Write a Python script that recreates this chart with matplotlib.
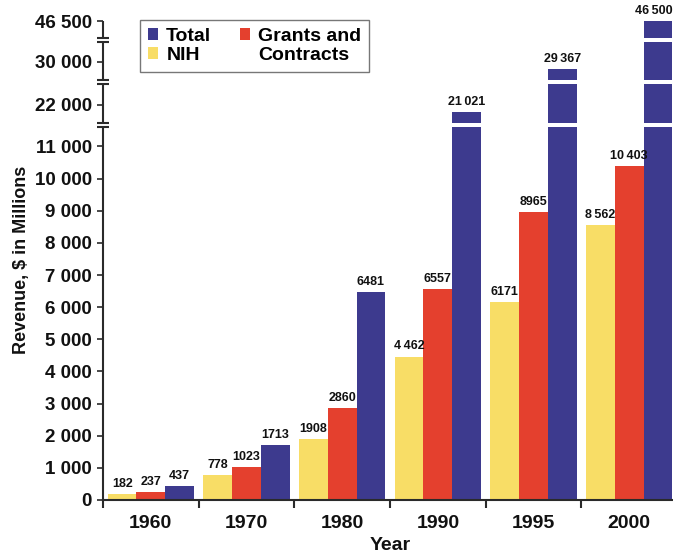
import numpy as np
import matplotlib
matplotlib.use('Agg')
import matplotlib.pyplot as plt
from matplotlib.patches import Rectangle

plt.rcParams['font.family'] = ['Liberation Sans', 'DejaVu Sans']
plt.rcParams['font.weight'] = 'bold'

# ---------------- data ----------------
years = ['1960', '1970', '1980', '1990', '1995', '2000']
nih = [182, 778, 1908, 4462, 6171, 8562]
grants = [237, 1023, 2860, 6557, 8965, 10403]
total = [437, 1713, 6481, 21021, 29367, 46500]

nih_labels = ['182', '778', '1908', '4\u2009462', '6171', '8\u2009562']
grants_labels = ['237', '1023', '2860', '6557', '8965', '10\u2009403']
total_labels = ['437', '1713', '6481', '21\u2009021', '29\u2009367', '46\u2009500']

ytick_values = [0, 1000, 2000, 3000, 4000, 5000, 6000, 7000, 8000, 9000,
                10000, 11000, 22000, 30000, 46500]
ytick_labels = ['0', '1 000', '2 000', '3 000', '4 000', '5 000', '6 000',
                '7 000', '8 000', '9 000', '10 000', '11 000', '22 000',
                '30 000', '46 500']

# ---------------- broken-axis scale definition ----------------
scale_vals = [0, 11600, 19550, 25000, 28400, 31800, 42000, 46500]
scale_pos = [0, 372.8, 377.5, 416.5, 420.5, 458, 462, 479]
gaps = [(11600, 19550), (25000, 28400), (31800, 42000)]
segments = [(0, 11600), (19550, 25000), (28400, 31800), (42000, 46500)]


def _interp(x, xp, fp):
    x = np.asarray(x, dtype=float)
    y = np.interp(x, xp, fp)
    lo = (fp[1] - fp[0]) / (xp[1] - xp[0])
    hi = (fp[-1] - fp[-2]) / (xp[-1] - xp[-2])
    y = np.where(x < xp[0], fp[0] + (x - xp[0]) * lo, y)
    y = np.where(x > xp[-1], fp[-1] + (x - xp[-1]) * hi, y)
    return y


def fwd(v):
    return _interp(v, scale_vals, scale_pos)


def inv(p):
    return _interp(p, scale_pos, scale_vals)


yellow = '#F8DD66'
red = '#E4402E'
blue = '#3D3A8E'
axis_color = '#2a2a2a'
text_color = '#111111'

fig = plt.figure(figsize=(6.73, 5.55), dpi=100)
ax = fig.add_axes([103 / 673, 55 / 555, 574 / 673, 479 / 555])
ax.set_yscale('function', functions=(fwd, inv))

x = np.arange(len(years))
w = 0.3
b1 = ax.bar(x - w, nih, w, color=yellow, zorder=2, label='NIH')
b2 = ax.bar(x, grants, w, color=red, zorder=2, label='Grants and Contracts')
b3 = ax.bar(x + w, total, w, color=blue, zorder=2, label='Total')

for bars, labs in ((b1, nih_labels), (b2, grants_labels), (b3, total_labels)):
    for i, (rect, lab) in enumerate(zip(bars, labs)):
        dx = -3 if (bars is b3 and i == len(labs) - 1) else 0
        ax.annotate(lab, (rect.get_x() + rect.get_width() / 2, rect.get_height()),
                    xytext=(dx, 3), textcoords='offset points', ha='center',
                    va='bottom', fontsize=9, fontweight='bold',
                    color=text_color, clip_on=False, zorder=6)

# white gaps through the bars
for lo, hi in gaps:
    ax.axhspan(lo, hi, color='white', lw=0, zorder=3)

ax.set_xlim(-0.5, 5.5)
ax.set_ylim(0, 46500)

# spines
for s in ('top', 'right', 'left'):
    ax.spines[s].set_visible(False)
ax.spines['bottom'].set_color(axis_color)
ax.spines['bottom'].set_linewidth(1.5)

trans = ax.get_yaxis_transform()
for lo, hi in segments:
    ax.plot([0, 0], [lo, hi], transform=trans, color=axis_color, lw=1.5,
            clip_on=False, zorder=4, solid_capstyle='butt')
for lo, hi in gaps:
    ax.plot([0, 0], [lo, hi], transform=trans, ls='none', marker='_',
            ms=9, mew=1.5, color=axis_color, clip_on=False, zorder=4)

# ticks
ax.set_yticks(ytick_values, ytick_labels)
ax.yaxis.set_minor_locator(matplotlib.ticker.NullLocator())
ax.tick_params(axis='y', length=4, width=1.2, direction='out', pad=4,
               labelsize=13.5, colors=axis_color, labelcolor=text_color)
ax.set_xticks(x, years)
ax.set_xticks(np.arange(-0.5, 5.0, 1.0), minor=True)
ax.tick_params(axis='x', which='major', length=0, pad=11, labelsize=14,
               labelcolor=text_color)
ax.tick_params(axis='x', which='minor', length=6, width=1.5, direction='out',
               color=axis_color)
for lab in ax.get_xticklabels() + ax.get_yticklabels():
    lab.set_fontweight('bold')

fig.text(22 / 673, 1 - 260 / 555, 'Revenue, $ in Millions', rotation=90,
         ha='center', va='center', fontsize=13, fontweight='bold',
         color=text_color)
fig.text(390 / 673, 1 - 545 / 555, 'Year', ha='center', va='center',
         fontsize=14, fontweight='bold', color=text_color)

# legend
blank = Rectangle((0, 0), 1, 1, fc='none', ec='none')
handles = [b3, b1, b2, blank]
labels = ['Total', 'NIH', 'Grants and', 'Contracts']
leg = ax.legend(handles, labels, ncol=2, loc='upper left',
                bbox_to_anchor=((140 - 103) / 574, 1.002), borderaxespad=0,
                frameon=True, fancybox=False, edgecolor='#555555',
                prop={'size': 14, 'weight': 'bold'}, handlelength=0.55,
                handleheight=0.55, handletextpad=0.4, columnspacing=1.45,
                labelspacing=0.12, borderpad=0.4)
leg.get_frame().set_linewidth(1.0)
leg.set_zorder(10)

fig.savefig('out.png', dpi=100, facecolor='white')
